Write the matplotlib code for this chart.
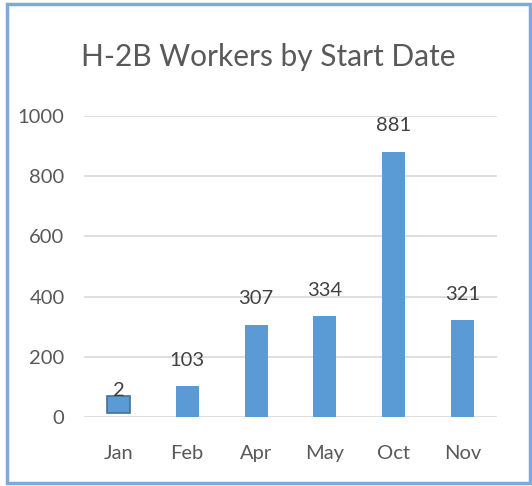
import matplotlib
matplotlib.use("Agg")
import matplotlib.pyplot as plt
from matplotlib.patches import Rectangle

categories = ["Jan", "Feb", "Apr", "May", "Oct", "Nov"]
values = [2, 103, 307, 334, 881, 321]
# drawn bar extents (Jan bar is drawn as an outlined box in the reference)
bar_bottoms = [13, 0, 0, 0, 0, 0]
bar_tops = [70, 103, 307, 334, 881, 321]
yticks = [0, 200, 400, 600, 800, 1000]

plt.rcParams['font.family'] = ['Lato', 'DejaVu Sans']
fig = plt.figure(figsize=(5.32, 4.86), dpi=100)
fig.patch.set_facecolor("white")
fig.patches.append(Rectangle((7/532, 3/486), 523/532, 479/486, transform=fig.transFigure,
                             fill=False, edgecolor="#7FA9DB", linewidth=2.5))

ax = fig.add_axes([84/532, 1 - 417/486, 413/532, 301/486])
x = list(range(len(categories)))
heights = [t - b for t, b in zip(bar_tops, bar_bottoms)]
edges = ["#41719C" if b > 0 else "#5B9BD5" for b in bar_bottoms]
ax.bar(x, heights, bottom=bar_bottoms, width=0.335, color="#5B9BD5", edgecolor=edges,
       linewidth=[1.2 if b > 0 else 0 for b in bar_bottoms], zorder=3)
for xi, v in zip(x, values):
    ax.annotate(str(v), (xi, v), xytext=(0, 12.5), textcoords="offset points",
                ha="center", va="bottom", fontsize=14.5, color="#404040", zorder=4)

ax.set_xlim(-0.5, len(categories) - 0.5)
ax.set_ylim(0, 1000)
ax.set_yticks(yticks)
ax.set_yticklabels([str(t) for t in yticks])
ax.set_xticks(x)
ax.set_xticklabels(categories)
ax.tick_params(axis="both", length=0, labelsize=14.5, labelcolor="#595959")
ax.tick_params(axis="y", pad=14)
ax.tick_params(axis="x", pad=20)
ax.grid(axis="y", color="#D9D9D9", linewidth=1.2, zorder=0)
for s in ax.spines.values():
    s.set_visible(False)
ax.set_facecolor("white")

fig.text(268/532, 1 - 57/486, "H-2B Workers by Start Date", ha="center", va="center",
         fontsize=21.5, color="#595959")

fig.savefig("out.png", dpi=100)
